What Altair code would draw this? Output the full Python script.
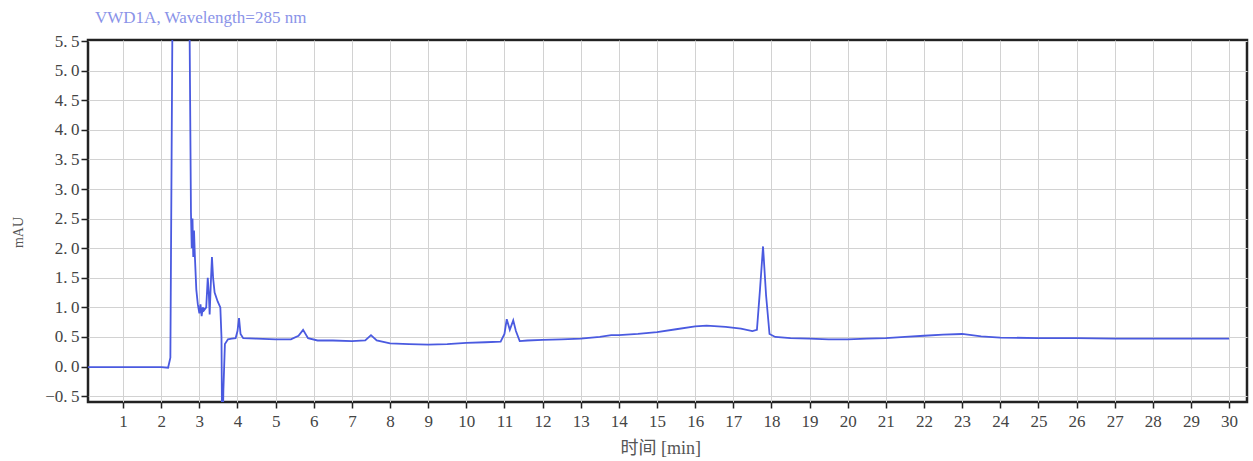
import altair as alt
import pandas as pd

# Chromatogram trace (minutes, mAU)
times = [0.08, 1.0, 2.0, 2.18, 2.24, 2.30, 2.45, 2.60, 2.74, 2.78, 2.80, 2.82, 2.84, 2.86, 2.88,
         2.92, 2.96, 3.00, 3.03, 3.06, 3.09, 3.12, 3.18, 3.22, 3.25, 3.27, 3.30, 3.33, 3.36, 3.40,
         3.48, 3.55, 3.58, 3.60, 3.63, 3.67, 3.75, 3.85, 3.95, 4.00, 4.04, 4.08, 4.15, 4.5, 5.0,
         5.4, 5.6, 5.72, 5.85, 6.1, 6.5, 7.0, 7.35, 7.5, 7.65, 8.0, 8.5, 9.0, 9.5, 10.0,
         10.5, 10.9, 11.0, 11.06, 11.14, 11.23, 11.30, 11.4, 11.6, 12.0, 12.5, 13.0, 13.5, 13.8, 14.0,
         14.5, 15.0, 15.5, 16.0, 16.3, 16.8, 17.2, 17.5, 17.62, 17.70, 17.78, 17.86, 17.95, 18.1, 18.5,
         19.0, 19.5, 20.0, 20.5, 21.0, 21.5, 22.0, 22.5, 23.0, 23.5, 24.0, 25.0, 26.0, 27.0, 28.0,
         29.0, 30.0]
mau = [-0.01, -0.01, -0.01, -0.02, 0.15, 6.5, 30.0, 20.0, 6.0, 2.6, 2.0, 2.5, 1.85, 2.3, 1.9,
       1.3, 1.05, 0.9, 1.05, 0.85, 1.0, 0.95, 1.0, 1.5, 1.2, 0.88, 1.4, 1.85, 1.5, 1.25,
       1.1, 1.0, 0.5, -1.5, -0.4, 0.38, 0.46, 0.47, 0.48, 0.6, 0.82, 0.55, 0.48, 0.47, 0.46,
       0.46, 0.52, 0.62, 0.48, 0.44, 0.44, 0.43, 0.44, 0.53, 0.44, 0.39, 0.38, 0.37, 0.38, 0.40,
       0.41, 0.42, 0.55, 0.80, 0.62, 0.78, 0.60, 0.43, 0.44, 0.45, 0.46, 0.47, 0.50, 0.53, 0.53,
       0.55, 0.58, 0.63, 0.68, 0.69, 0.67, 0.64, 0.60, 0.62, 1.3, 2.03, 1.2, 0.55, 0.50, 0.48,
       0.47, 0.46, 0.46, 0.47, 0.48, 0.50, 0.52, 0.54, 0.55, 0.51, 0.49, 0.48, 0.48, 0.47, 0.47,
       0.47, 0.47]

x_ticks = list(range(1, 31))
y_ticks = [-0.5, 0.0, 0.5, 1.0, 1.5, 2.0, 2.5, 3.0, 3.5, 4.0, 4.5, 5.0, 5.5]
chart_title = "VWD1A, Wavelength=285 nm"
x_title = "时间 [min]"
y_title = "mAU"

df = pd.DataFrame({"t": times, "v": mau})

W, H = 1159, 362
serif = "Liberation Serif"
mixed = "Liberation Serif, Noto Sans CJK SC"

line = alt.Chart(df).mark_line(color="#4a5ae0", strokeWidth=1.8, clip=True).encode(
    x=alt.X("t:Q", scale=alt.Scale(domain=[0.08, 30.47], nice=False, zero=False),
            axis=alt.Axis(values=x_ticks, format="d", title=x_title, domain=False,
                          tickSize=6, tickColor="#222", tickWidth=1.5, labelPadding=5,
                          labelFont=serif, labelFontSize=17, labelColor="#444",
                          gridColor="#d2d2d2", gridWidth=1,
                          titleFont=mixed, titleFontSize=18, titleFontWeight="normal",
                          titleColor="#555", titleAnchor="start", titleAlign="left",
                          titleX=532, titleY=46, titleBaseline="middle")),
    y=alt.Y("v:Q", scale=alt.Scale(domain=[-0.6, 5.52], nice=False, zero=False),
            axis=alt.Axis(values=y_ticks, title=y_title, domain=False,
                          labelExpr="replace(format(datum.value, '.1f'), '.', '.\u2009')",
                          tickSize=7, tickColor="#222", tickWidth=1.5, labelPadding=2,
                          labelFont=serif, labelFontSize=17, labelColor="#444",
                          gridColor="#d2d2d2", gridWidth=1,
                          titleFont=serif, titleFontSize=14, titleFontWeight="normal",
                          titleColor="#555", titleAngle=270, titleX=-70, titleY=192,
                          titleAlign="center", titleBaseline="middle")),
)

title_layer = alt.Chart(alt.Data(values=[{"label": chart_title}])).mark_text(
    align="left", baseline="middle", font=serif, fontSize=17, color="#8a93e8"
).encode(x=alt.value(7), y=alt.value(-22), text="label:N")

chart = alt.layer(line, title_layer).properties(
    width=W, height=H,
    autosize=alt.AutoSizeParams(type="none"),
    padding={"left": 88, "top": 40, "right": 6, "bottom": 59},
    background="white",
).configure_view(stroke="#222", strokeWidth=2.5)

chart.save("out.html", embed_options={"renderer": "svg", "actions": False})
